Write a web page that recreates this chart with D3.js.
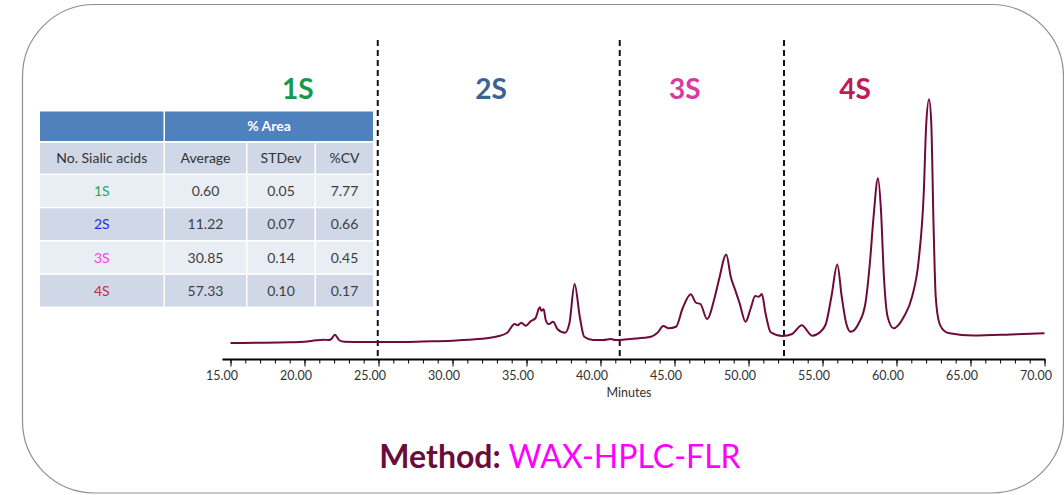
<!DOCTYPE html>
<html>
<head>
<meta charset="utf-8">
<title>WAX-HPLC-FLR sialic acid profile</title>
<script src="https://cdn.jsdelivr.net/npm/d3@7"></script>
<style>
    html, body { margin: 0; padding: 0; background: #fff; }
    svg { display: block; font-family: Lato, "Open Sans", sans-serif; }
</style>
</head>
<body>
<div id="chart"></div>
<script>

//******************************************************************************
//**  Data
//******************************************************************************

  //Chromatogram trace (retention time in minutes, detector response)
    var minutes = [
        15.0, 17.0, 19.0, 20.0, 20.8, 21.3, 21.6, 21.8, 22.05, 22.35, 22.7,
        24.0, 26.0, 28.0, 30.0, 31.0, 32.0, 33.0, 33.7, 34.2, 34.4, 34.65,
        34.95, 35.3, 35.6, 35.9, 36.0, 36.16, 36.3, 36.5, 36.8, 37.1, 37.6,
        37.9, 38.25, 38.6, 38.9, 39.5, 40.2, 40.7, 41.0, 41.5, 42.0, 43.4,
        43.85, 44.25, 44.6, 45.1, 45.55, 46.1, 46.45, 46.75, 47.2, 47.7, 48.0,
        48.5, 48.8, 49.1, 49.4, 49.8, 50.15, 50.45, 50.7, 50.9, 51.15, 51.5,
        52.3, 52.95, 53.6, 54.3, 54.6, 55.2, 55.6, 56.0, 56.3, 56.6, 56.9,
        57.45, 57.9, 58.2, 58.45, 58.75, 58.95, 59.15, 59.4, 59.8, 60.5, 61.05,
        61.5, 61.85, 62.0, 62.2, 62.35, 62.5, 62.65, 62.9, 63.3, 63.6, 65.2,
        67.7, 70.0
    ];
    var response = [
        2.8, 2.9, 3.1, 3.3, 3.9, 4.1, 4.0, 4.3, 6.1, 3.9, 3.3,
        3.2, 3.2, 3.4, 3.7, 4.1, 4.5, 5.4, 6.9, 10.4, 9.9, 10.9,
        9.7, 11.6, 12.7, 17.1, 15.7, 16.3, 12.0, 10.3, 11.3, 8.3, 6.9,
        10.7, 26.4, 13.3, 5.3, 4.0, 4.0, 4.4, 4.0, 4.1, 4.4, 5.3,
        6.9, 9.6, 8.7, 9.3, 16.7, 22.3, 18.9, 18.4, 12.4, 20.7, 28.0,
        38.2, 29.3, 24.0, 18.7, 11.3, 16.7, 21.6, 21.3, 22.4, 14.7, 7.1,
        5.6, 6.4, 9.9, 5.7, 6.2, 10.0, 21.3, 34.2, 21.3, 10.7, 7.3,
        10.7, 18.7, 34.7, 53.3, 68.7, 56.0, 29.3, 13.3, 8.7, 13.3, 21.3,
        36.0, 64.0, 89.3, 100.3, 90.7, 50.7, 21.3, 10.7, 7.3, 6.7, 5.8,
        6.2, 6.7
    ];

  //Sialylation regions
    var regionNames = ["1S", "2S", "3S", "4S"];
    var regionLabelMinutes = [19.55, 32.6, 45.7, 57.2];
    var regionDividers = [24.95, 41.3, 52.4];

  //Axis ticks
    var majorTicks = [15, 20, 25, 30, 35, 40, 45, 50, 55, 60, 65, 70];
    var minorTicks = d3.range(15, 71, 1);

  //% Area table
    var tableHeaders = ["No. Sialic acids", "Average", "STDev", "%CV"];
    var sialicAcids = ["1S", "2S", "3S", "4S"];
    var areaAverage = [0.60, 11.22, 30.85, 57.33];
    var areaStdDev = [0.05, 0.07, 0.14, 0.10];
    var areaCV = [7.77, 0.66, 0.45, 0.17];


//******************************************************************************
//**  Styles
//******************************************************************************
    var width = 1064, height = 495;
    var regionColors = ["#17994a", "#3a6395", "#d83ba0", "#c01a58"];
    var rowLabelColors = ["#1faa55", "#2626ee", "#ff3ee6", "#cc2a3c"];
    var traceColor = "#6e0a3c";


    var svg = d3.select("#chart").append("svg")
        .attr("width", width)
        .attr("height", height);


  //Rounded frame
    svg.append("rect")
        .attr("x", 22.5).attr("y", 4.5)
        .attr("width", 1041).attr("height", 488.5)
        .attr("rx", 72).attr("ry", 72)
        .style("fill", "none")
        .style("stroke", "#8f8f8f")
        .style("stroke-width", 1.2);


  //**************************************************************************
  //** Scales
  //**************************************************************************
    var x = d3.scaleLinear().domain([15, 70]).range([230.5, 1044.5]);
    var y = d3.scaleLinear().domain([0, 100]).range([350, 100]);
    var axisY = 359.5;


  //**************************************************************************
  //** Axis
  //**************************************************************************
    var axis = svg.append("g").attr("transform", "translate(0," + axisY + ")");

    axis.append("g")
        .call(d3.axisBottom(x).tickValues(minorTicks).tickSize(4).tickFormat(""))
        .call(function(g){ g.select(".domain").remove(); })
        .selectAll("line").style("stroke", "#000").style("stroke-width", 1);

    var major = axis.append("g")
        .call(d3.axisBottom(x)
            .tickValues(majorTicks)
            .tickSize(7)
            .tickPadding(5)
            .tickFormat(d3.format(".2f")));
    major.select(".domain").remove();
    major.selectAll("line").style("stroke", "#000").style("stroke-width", 1);
    major.selectAll("text")
        .attr("dx", -9)
        .style("font-family", "Lato, 'Open Sans', sans-serif")
        .style("font-size", "12.5px")
        .style("fill", "#333");

    axis.append("line")
        .attr("x1", x(15) - 8).attr("x2", x(70) + 1)
        .attr("y1", 0).attr("y2", 0)
        .style("stroke", "#000")
        .style("stroke-width", 2);

    svg.append("text")
        .attr("x", 629).attr("y", 397)
        .attr("text-anchor", "middle")
        .style("font-size", "12.5px")
        .style("fill", "#333")
        .text("Minutes");


  //**************************************************************************
  //** Region dividers and labels
  //**************************************************************************
    svg.append("g").selectAll("line")
        .data(regionDividers)
        .enter().append("line")
        .attr("x1", function(d){ return x(d); })
        .attr("x2", function(d){ return x(d); })
        .attr("y1", 40).attr("y2", axisY)
        .style("stroke", "#111")
        .style("stroke-width", 2)
        .style("stroke-dasharray", "6,4");

    svg.append("g").selectAll("text")
        .data(regionNames)
        .enter().append("text")
        .attr("x", function(d, i){ return x(regionLabelMinutes[i]); })
        .attr("y", 99)
        .attr("text-anchor", "middle")
        .style("font-size", "28px")
        .style("font-weight", "bold")
        .style("fill", function(d, i){ return regionColors[i]; })
        .text(function(d){ return d; });


  //**************************************************************************
  //** Trace
  //**************************************************************************
    var points = minutes.map(function(t, i){ return [t, response[i]]; });
    var line = d3.line()
        .curve(d3.curveMonotoneX)
        .x(function(d){ return x(d[0]); })
        .y(function(d){ return y(d[1]); });

    svg.append("path")
        .attr("d", line(points))
        .style("fill", "none")
        .style("stroke", traceColor)
        .style("stroke-width", 2)
        .style("stroke-linejoin", "round");


  //**************************************************************************
  //** Table
  //**************************************************************************
    var colX = [40, 165, 247.5, 316];
    var colW = [123.5, 81, 67, 57];
    var rowTop = 175, rowStep = 33.3, rowH = 31.7;
    var table = svg.append("g").style("font-size", "14px");

  //Header row 1
    table.append("rect")
        .attr("x", colX[0]).attr("y", 111.5)
        .attr("width", colW[0]).attr("height", 29.5)
        .style("fill", "#4f81bd");
    table.append("rect")
        .attr("x", colX[1]).attr("y", 111.5)
        .attr("width", colX[3] + colW[3] - colX[1]).attr("height", 29.5)
        .style("fill", "#4f81bd");
    table.append("text")
        .attr("x", (colX[1] + colX[3] + colW[3]) / 2).attr("y", 131)
        .attr("text-anchor", "middle")
        .style("font-weight", "bold")
        .style("fill", "#fff")
        .text("% Area");

  //Header row 2
    var header = table.append("g").selectAll("g")
        .data(tableHeaders)
        .enter().append("g");
    header.append("rect")
        .attr("x", function(d, i){ return colX[i]; })
        .attr("y", 143)
        .attr("width", function(d, i){ return colW[i]; })
        .attr("height", 30.5)
        .style("fill", "#d0d8e8");
    header.append("text")
        .attr("x", function(d, i){ return colX[i] + colW[i] / 2; })
        .attr("y", 163)
        .attr("text-anchor", "middle")
        .style("fill", "#333")
        .text(function(d){ return d; });

  //Data rows
    var fmt = d3.format(".2f");
    var rows = table.append("g").selectAll("g")
        .data(sialicAcids)
        .enter().append("g")
        .attr("transform", function(d, i){ return "translate(0," + (rowTop + i * rowStep) + ")"; });

    rows.each(function(d, i){
        var cells = [d, fmt(areaAverage[i]), fmt(areaStdDev[i]), fmt(areaCV[i])];
        var g = d3.select(this);
        g.selectAll("rect").data(cells).enter().append("rect")
            .attr("x", function(c, j){ return colX[j]; })
            .attr("y", 0)
            .attr("width", function(c, j){ return colW[j]; })
            .attr("height", rowH)
            .style("fill", i % 2 === 0 ? "#e9edf4" : "#d0d8e8");
        g.selectAll("text").data(cells).enter().append("text")
            .attr("x", function(c, j){ return colX[j] + colW[j] / 2; })
            .attr("y", 21)
            .attr("text-anchor", "middle")
            .style("fill", function(c, j){ return j === 0 ? rowLabelColors[i] : "#404040"; })
            .text(function(c){ return c; });
    });


  //**************************************************************************
  //** Method caption
  //**************************************************************************
    var caption = svg.append("text")
        .attr("x", 560).attr("y", 468)
        .attr("text-anchor", "middle")
        .style("font-size", "32px");
    caption.append("tspan")
        .style("font-weight", "bold")
        .style("fill", "#6b0d3c")
        .text("Method: ");
    caption.append("tspan")
        .style("fill", "#ff00ff")
        .text("WAX-HPLC-FLR");

</script>
</body>
</html>
